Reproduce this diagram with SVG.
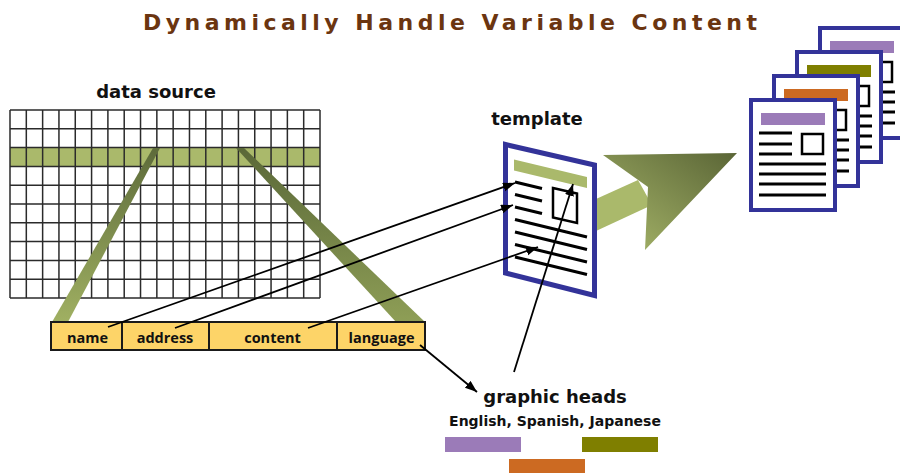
<svg xmlns="http://www.w3.org/2000/svg" width="900" height="473" viewBox="0 0 900 473">
  <defs>
    <style>
      .lbl { font-family: "DejaVu Sans", Verdana, sans-serif; font-weight: bold; fill: #111; text-anchor: middle; }
      .big { font-size: 18px; }
      .fld { font-family: "Open Sans", "DejaVu Sans", sans-serif; font-weight: bold; font-size: 14.5px; }
      .sub { font-size: 14px; }
      .title { font-family: "DejaVu Sans", Verdana, sans-serif; font-weight: bold; font-size: 22px; fill: #6b3510; }
      .grid { fill: none; stroke: #2b2b2b; stroke-width: 1.5; }
      .row { fill: #aab96b; }
      .field { fill: #fdd468; stroke: #1a1a1a; stroke-width: 2; }
      .doc { fill: #fff; stroke: #333399; stroke-width: 4; }
      .ink { fill: none; stroke: #000; stroke-width: 3; }
      .box { fill: none; stroke: #000; stroke-width: 2.5; }
      .link { fill: none; stroke: #000; stroke-width: 1.8; marker-end: url(#tip); }
    </style>
    <marker id="tip" markerUnits="userSpaceOnUse" markerWidth="13" markerHeight="10" refX="12" refY="4.5" orient="auto">
      <path d="M0,0 L12,4.5 L0,9 z" fill="#000"/>
    </marker>
    <linearGradient id="bandL" x1="0" y1="0" x2="0" y2="1">
      <stop offset="0" stop-color="#5d6b3a"/>
      <stop offset="1" stop-color="#a0b062"/>
    </linearGradient>
    <linearGradient id="bandR" x1="0" y1="0" x2="0" y2="1">
      <stop offset="0" stop-color="#5a6838"/>
      <stop offset="1" stop-color="#8e9e56"/>
    </linearGradient>
    <linearGradient id="head" x1="0" y1="1" x2="1" y2="0">
      <stop offset="0" stop-color="#a9b86b"/>
      <stop offset="1" stop-color="#5a6536"/>
    </linearGradient>
    <!-- one page of the output stack, drawn at the origin -->
    <g id="page">
      <rect class="doc" x="2" y="2" width="84" height="110"/>
      <path class="ink" d="M10 35 H43 M10 46 H43 M10 56 H43 M10 66 H77 M10 76 H77 M10 86 H77 M10 97 H77"/>
      <rect class="box" x="53" y="36" width="21" height="20"/>
    </g>
  </defs>

  <rect width="900" height="473" fill="#fff"/>

  <g id="title">
    <text class="title" x="143" y="30" textLength="614" lengthAdjust="spacing">Dynamically Handle Variable Content</text>
  </g>

  <!-- table of records -->
  <g id="data-source">
    <text class="lbl big" x="156" y="98">data source</text>
    <rect class="row" x="10" y="147.6" width="310" height="18.8"/>
    <path class="grid" d="M10 110 v188 m16.316 -188 v188 m16.316 -188 v188 m16.316 -188 v188 m16.316 -188 v188 m16.316 -188 v188 m16.316 -188 v188 m16.316 -188 v188 m16.316 -188 v188 m16.316 -188 v188 m16.316 -188 v188 m16.316 -188 v188 m16.316 -188 v188 m16.316 -188 v188 m16.316 -188 v188 m16.316 -188 v188 m16.316 -188 v188 m16.316 -188 v188 m16.316 -188 v188 m16.316 -188 v188"/>
    <path class="grid" d="M10 110 h310 m-310 18.8 h310 m-310 18.8 h310 m-310 18.8 h310 m-310 18.8 h310 m-310 18.8 h310 m-310 18.8 h310 m-310 18.8 h310 m-310 18.8 h310 m-310 18.8 h310 m-310 18.8 h310"/>
  </g>

  <!-- the selected row spreading into the record fields -->
  <g id="row-mapping">
    <polygon points="153,148 160,148 68,322 52,322" fill="url(#bandL)"/>
    <polygon points="236,148 244,148 425,322 396,322" fill="url(#bandR)"/>
  </g>

  <g id="fields">
    <rect class="field" x="51" y="322" width="374" height="28"/>
    <path d="M122 322 V350 M209 322 V350 M337 322 V350" stroke="#1a1a1a" stroke-width="2"/>
    <text class="lbl fld" x="87.5" y="343">name</text>
    <text class="lbl fld" x="165" y="343">address</text>
    <text class="lbl fld" x="272.5" y="343">content</text>
    <text class="lbl fld" x="381.5" y="343">language</text>
  </g>

  <!-- merge arrow from template to output -->
  <g id="merge-arrow">
    <polygon points="596,199 638,180 652,205 596,231" fill="#aab96b"/>
    <polygon points="603,155 737,153 645,250 648,187" fill="url(#head)"/>
  </g>

  <g id="template">
    <text class="lbl big" x="537" y="125">template</text>
    <polygon points="505.5,144.5 594.5,165 594.5,295.5 505.5,273" fill="#fff" stroke="#333399" stroke-width="5"/>
    <polygon points="514,159.5 587,177 587,188 514,170.5" fill="#aab96b"/>
    <path class="ink" d="M515 182 L542 188.5 M515 194.5 L542 201 M515 207 L542 213.5 M515 219.5 L587 237 M515 232 L587 249.5 M515 244.5 L587 262 M515 257 L587 274.5"/>
    <polygon class="box" points="553,188 577,193.5 577,223 553,217.5"/>
  </g>

  <g id="output-pages">
    <g transform="translate(818,26)">
      <use href="#page"/>
      <rect x="12" y="15" width="64" height="12" fill="#9b7bb8"/>
    </g>
    <g transform="translate(795,50)">
      <use href="#page"/>
      <rect x="12" y="15" width="64" height="12" fill="#7f7f00"/>
    </g>
    <g transform="translate(772,74)">
      <use href="#page"/>
      <rect x="12" y="15" width="64" height="12" fill="#cc6a22"/>
    </g>
    <g transform="translate(749,98)">
      <use href="#page"/>
      <rect x="12" y="15" width="64" height="12" fill="#9b7bb8"/>
    </g>
  </g>

  <g id="graphic-heads">
    <text class="lbl big" x="555" y="403">graphic heads</text>
    <text class="lbl sub" x="555" y="426">English, Spanish, Japanese</text>
    <rect x="445" y="437" width="76" height="15" fill="#9b7bb8"/>
    <rect x="582" y="437" width="76" height="15" fill="#7f7f00"/>
    <rect x="509" y="459" width="76" height="14" fill="#cc6a22"/>
  </g>

  <g id="connectors">
    <path class="link" d="M108 327 L515 183"/>
    <path class="link" d="M175 328 L513 205"/>
    <path class="link" d="M308 328 L538 247"/>
    <path class="link" d="M420 345 L477 392"/>
    <path class="link" d="M514 372 L573 184"/>
  </g>
</svg>
